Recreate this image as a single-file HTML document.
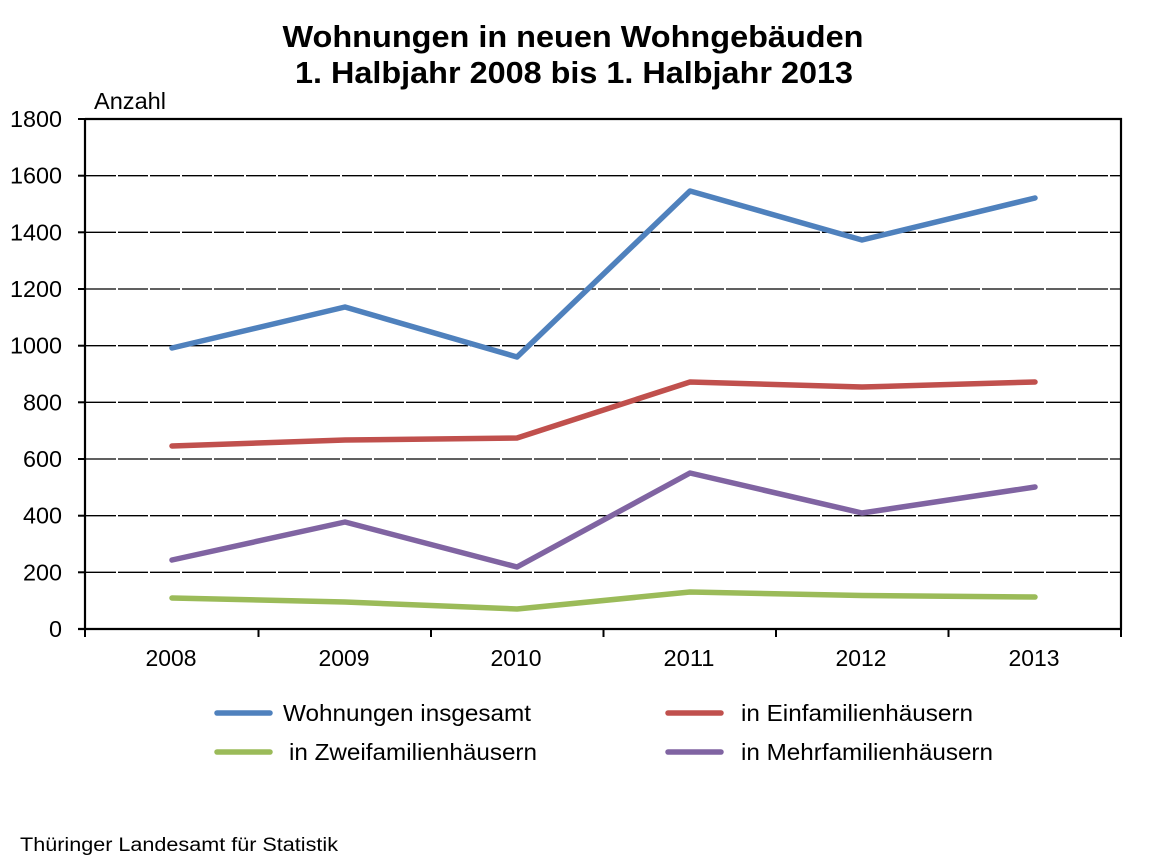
<!DOCTYPE html>
<html>
<head>
<meta charset="utf-8">
<style>
  html, body { margin:0; padding:0; background:#fff; }
  svg { display:block; }
  text { font-family: "Liberation Sans", Arial, sans-serif; fill:#000; }
</style>
</head>
<body>
<svg width="1157" height="867" viewBox="0 0 1157 867" xmlns="http://www.w3.org/2000/svg">
  <rect x="0" y="0" width="1157" height="867" fill="#fff"/>

  <!-- Title -->
  <text x="573" y="47" font-size="31" font-weight="bold" text-anchor="middle" textLength="581" lengthAdjust="spacingAndGlyphs">Wohnungen in neuen Wohngebäuden</text>
  <text x="574" y="83" font-size="31" font-weight="bold" text-anchor="middle" textLength="558" lengthAdjust="spacingAndGlyphs">1. Halbjahr 2008 bis 1. Halbjahr 2013</text>

  <!-- Anzahl -->
  <text x="94" y="109" font-size="23" textLength="72" lengthAdjust="spacingAndGlyphs">Anzahl</text>

  <!-- Gridlines -->
  <g stroke="#000" stroke-width="1.3" stroke-dasharray="30 2">
    <line x1="86" y1="175.7" x2="1121" y2="175.7"/>
    <line x1="86" y1="232.3" x2="1121" y2="232.3"/>
    <line x1="86" y1="289" x2="1121" y2="289"/>
    <line x1="86" y1="345.7" x2="1121" y2="345.7"/>
    <line x1="86" y1="402.3" x2="1121" y2="402.3"/>
    <line x1="86" y1="459" x2="1121" y2="459"/>
    <line x1="86" y1="515.7" x2="1121" y2="515.7"/>
    <line x1="86" y1="572.3" x2="1121" y2="572.3"/>
  </g>

  <!-- Plot border / axes -->
  <g stroke="#000" stroke-width="2.2" fill="none">
    <line x1="85" y1="119" x2="1122" y2="119"/>
    <line x1="1121" y1="118" x2="1121" y2="630"/>
    <line x1="85" y1="118" x2="85" y2="630"/>
    <line x1="78" y1="629" x2="1122" y2="629"/>
  </g>

  <!-- Y ticks -->
  <g stroke="#000" stroke-width="2">
    <line x1="78" y1="119" x2="86" y2="119"/>
    <line x1="78" y1="175.7" x2="86" y2="175.7"/>
    <line x1="78" y1="232.3" x2="86" y2="232.3"/>
    <line x1="78" y1="289" x2="86" y2="289"/>
    <line x1="78" y1="345.7" x2="86" y2="345.7"/>
    <line x1="78" y1="402.3" x2="86" y2="402.3"/>
    <line x1="78" y1="459" x2="86" y2="459"/>
    <line x1="78" y1="515.7" x2="86" y2="515.7"/>
    <line x1="78" y1="572.3" x2="86" y2="572.3"/>
    <line x1="78" y1="629" x2="86" y2="629"/>
  </g>

  <!-- X ticks -->
  <g stroke="#000" stroke-width="2">
    <line x1="85" y1="629" x2="85" y2="637"/>
    <line x1="258.5" y1="629" x2="258.5" y2="637"/>
    <line x1="431" y1="629" x2="431" y2="637"/>
    <line x1="603.5" y1="629" x2="603.5" y2="637"/>
    <line x1="776" y1="629" x2="776" y2="637"/>
    <line x1="948.5" y1="629" x2="948.5" y2="637"/>
    <line x1="1121" y1="629" x2="1121" y2="637"/>
  </g>

  <!-- Y labels -->
  <g font-size="23" text-anchor="end">
    <text x="62" y="127" textLength="52" lengthAdjust="spacingAndGlyphs">1800</text>
    <text x="62" y="183.7" textLength="52" lengthAdjust="spacingAndGlyphs">1600</text>
    <text x="62" y="240.3" textLength="52" lengthAdjust="spacingAndGlyphs">1400</text>
    <text x="62" y="297" textLength="52" lengthAdjust="spacingAndGlyphs">1200</text>
    <text x="62" y="353.7" textLength="52" lengthAdjust="spacingAndGlyphs">1000</text>
    <text x="62" y="410.3" textLength="39" lengthAdjust="spacingAndGlyphs">800</text>
    <text x="62" y="467" textLength="39" lengthAdjust="spacingAndGlyphs">600</text>
    <text x="62" y="523.7" textLength="39" lengthAdjust="spacingAndGlyphs">400</text>
    <text x="62" y="580.3" textLength="39" lengthAdjust="spacingAndGlyphs">200</text>
    <text x="62" y="637" textLength="13" lengthAdjust="spacingAndGlyphs">0</text>
  </g>

  <!-- X labels -->
  <g font-size="23" text-anchor="middle">
    <text x="171" y="666" textLength="51" lengthAdjust="spacingAndGlyphs">2008</text>
    <text x="344" y="666" textLength="51" lengthAdjust="spacingAndGlyphs">2009</text>
    <text x="516" y="666" textLength="51" lengthAdjust="spacingAndGlyphs">2010</text>
    <text x="689" y="666" textLength="51" lengthAdjust="spacingAndGlyphs">2011</text>
    <text x="861" y="666" textLength="51" lengthAdjust="spacingAndGlyphs">2012</text>
    <text x="1034" y="666" textLength="51" lengthAdjust="spacingAndGlyphs">2013</text>
  </g>

  <!-- Series -->
  <g fill="none" stroke-width="5.5" stroke-linecap="round" stroke-linejoin="round">
    <polyline stroke="#9BBB59" points="172,598 345,602 517,609 690,592 862,595.5 1035,597"/>
    <polyline stroke="#8064A2" points="172,560 345,522 517,567 690,473 862,513 1035,487"/>
    <polyline stroke="#C0504D" points="172,446 345,440 517,438 690,382 862,387 1035,382"/>
    <polyline stroke="#4F81BD" points="172,348 345,307 517,357 690,191 862,240 1035,198"/>
  </g>

  <!-- Legend -->
  <g stroke-width="5.5" stroke-linecap="round">
    <line x1="217" y1="713" x2="270" y2="713" stroke="#4F81BD"/>
    <line x1="668" y1="713" x2="721" y2="713" stroke="#C0504D"/>
    <line x1="217" y1="752" x2="270" y2="752" stroke="#9BBB59"/>
    <line x1="668" y1="752" x2="721" y2="752" stroke="#8064A2"/>
  </g>
  <g font-size="23">
    <text x="283" y="721" textLength="248" lengthAdjust="spacingAndGlyphs">Wohnungen insgesamt</text>
    <text x="741" y="721" textLength="232" lengthAdjust="spacingAndGlyphs">in Einfamilienhäusern</text>
    <text x="289" y="760" textLength="248" lengthAdjust="spacingAndGlyphs">in Zweifamilienhäusern</text>
    <text x="741" y="760" textLength="252" lengthAdjust="spacingAndGlyphs">in Mehrfamilienhäusern</text>
  </g>

  <!-- Footer -->
  <text x="20" y="851" font-size="19" textLength="318" lengthAdjust="spacingAndGlyphs">Thüringer Landesamt für Statistik</text>
</svg>
</body>
</html>
